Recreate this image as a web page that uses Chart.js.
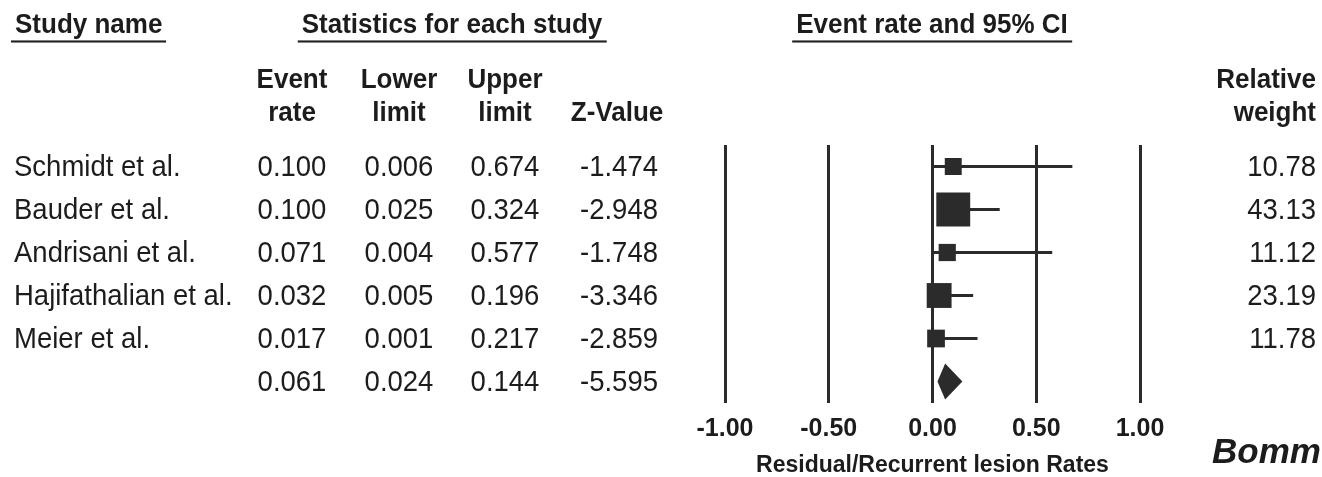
<!DOCTYPE html>
<html>
<head>
<meta charset="utf-8">
<script src="https://cdn.jsdelivr.net/npm/chart.js@4"></script>
<style>
  html, body { margin: 0; padding: 0; background: #fff; }
  #wrap { position: relative; width: 1322px; height: 477px; overflow: hidden; }
  #plot { position: absolute; left: 0; top: 0; }
  .t { position: absolute; white-space: nowrap; line-height: 1; color: #1c1c1c;
       font-family: "Liberation Sans", Arial, Helvetica, sans-serif; }
  .b { font-weight: bold; }
  .ul { border-bottom: 2px solid #222; padding: 0 4px 1px 4px; }
</style>
</head>
<body>
<div id="wrap">
  <canvas id="plot" width="1322" height="477"></canvas>
</div>
<script>
// study data
const studies = ["Schmidt et al.", "Bauder et al.", "Andrisani et al.", "Hajifathalian et al.", "Meier et al."];
const eventRate = [0.100, 0.100, 0.071, 0.032, 0.017];
const lowerLimit = [0.006, 0.025, 0.004, 0.005, 0.001];
const upperLimit = [0.674, 0.324, 0.577, 0.196, 0.217];
const zValue = [-1.474, -2.948, -1.748, -3.346, -2.859];
const relWeight = [10.78, 43.13, 11.12, 23.19, 11.78];
// pooled estimate: rate, lower, upper, z
const pooled = [0.061, 0.024, 0.144, -5.595];
const xTicks = [-1, -0.5, 0, 0.5, 1];

const ink = "#2b2b2b";
const wrap = document.getElementById("wrap");

// put a line of text with its baseline at y (slightly stretched vertically like the source)
function put(text, x, baseline, size, opts) {
  opts = opts || {};
  const el = document.createElement("div");
  el.className = "t" + (opts.bold ? " b" : "");
  el.style.fontSize = size + "px";
  if (opts.italic) el.style.fontStyle = "italic";
  const inner = document.createElement("span");
  inner.textContent = text;
  if (opts.underline) inner.className = "ul";
  el.appendChild(inner);
  const base = 0.846 * size;
  el.style.top = (baseline - base) + "px";
  el.style.left = x + "px";
  let tx = "";
  if (opts.align === "center") tx = "translateX(-50%) ";
  if (opts.align === "right") tx = "translateX(-100%) ";
  el.style.transformOrigin = "0 " + base + "px";
  el.style.transform = tx + "scaleY(" + (opts.sy || 1.06) + ")";
  wrap.appendChild(el);
}

// headers
put("Study name", 11, 33, 26, { bold: true, underline: true });
put("Statistics for each study", 452, 33, 26, { bold: true, underline: true, align: "center" });
put("Event rate and 95% CI", 932, 33, 26, { bold: true, underline: true, align: "center" });

const colX = [292, 399, 505];
put("Event", colX[0], 88, 26, { bold: true, align: "center" });
put("rate", colX[0], 121, 26, { bold: true, align: "center" });
put("Lower", colX[1], 88, 26, { bold: true, align: "center" });
put("limit", colX[1], 121, 26, { bold: true, align: "center" });
put("Upper", colX[2], 88, 26, { bold: true, align: "center" });
put("limit", colX[2], 121, 26, { bold: true, align: "center" });
put("Z-Value", 617, 121, 26, { bold: true, align: "center" });
put("Relative", 1316, 88, 26, { bold: true, align: "right" });
put("weight", 1316, 121, 26, { bold: true, align: "right" });

const rowBase = 176.5, rowStep = 43;
studies.forEach((name, i) => {
  const y = rowBase + i * rowStep;
  put(name, 14, y, 27.5);
  put(eventRate[i].toFixed(3), colX[0], y, 27.5, { align: "center" });
  put(lowerLimit[i].toFixed(3), colX[1], y, 27.5, { align: "center" });
  put(upperLimit[i].toFixed(3), colX[2], y, 27.5, { align: "center" });
  put(zValue[i].toFixed(3), 658, y, 27.5, { align: "right" });
  put(relWeight[i].toFixed(2), 1316, y, 27.5, { align: "right" });
});
const py = rowBase + studies.length * rowStep;
put(pooled[0].toFixed(3), colX[0], py, 27.5, { align: "center" });
put(pooled[1].toFixed(3), colX[1], py, 27.5, { align: "center" });
put(pooled[2].toFixed(3), colX[2], py, 27.5, { align: "center" });
put(pooled[3].toFixed(3), 658, py, 27.5, { align: "right" });

put("Bomm", 1212, 463, 35, { bold: true, italic: true, sy: 1 });

// datasets: one CI line per study, squares sized by weight
const ciSets = studies.map((name, i) => ({
  type: "line",
  label: name + " CI",
  data: [{ x: lowerLimit[i], y: i }, { x: upperLimit[i], y: i }],
  borderColor: ink,
  borderWidth: 3,
  pointRadius: 0,
  order: 2,
}));

const squares = {
  type: "scatter",
  label: "Event rate",
  data: studies.map((n, i) => ({ x: eventRate[i], y: i })),
  pointStyle: "rect",
  pointRadius: (c) => Math.sqrt(relWeight[c.dataIndex]) * 3.65,
  backgroundColor: ink,
  borderWidth: 0,
  order: 1,
};

// pooled diamond drawn through the scales
const diamondPlugin = {
  id: "diamond",
  afterDatasetsDraw(chart) {
    const { ctx, scales } = chart;
    const row = studies.length;
    const h = 0.42;
    ctx.save();
    ctx.fillStyle = ink;
    ctx.beginPath();
    ctx.moveTo(scales.x.getPixelForValue(pooled[1]), scales.y.getPixelForValue(row));
    ctx.lineTo(scales.x.getPixelForValue(pooled[0]), scales.y.getPixelForValue(row - h));
    ctx.lineTo(scales.x.getPixelForValue(pooled[2]), scales.y.getPixelForValue(row));
    ctx.lineTo(scales.x.getPixelForValue(pooled[0]), scales.y.getPixelForValue(row + h));
    ctx.closePath();
    ctx.fill();
    ctx.restore();
  },
};

new Chart(document.getElementById("plot"), {
  type: "scatter",
  data: { datasets: [squares, ...ciSets] },
  plugins: [diamondPlugin],
  options: {
    responsive: false,
    animation: false,
    layout: { padding: { left: 725, right: 182, top: 145, bottom: 0 } },
    plugins: { legend: { display: false }, tooltip: { enabled: false } },
    scales: {
      x: {
        type: "linear",
        min: -1,
        max: 1,
        afterBuildTicks: (s) => { s.ticks = xTicks.map((v) => ({ value: v })); },
        afterFit: (s) => { s.height = 74; },
        grid: { color: ink, lineWidth: 3, drawTicks: false },
        border: { display: false },
        ticks: {
          padding: 11,
          color: "#1c1c1c",
          font: { family: "Liberation Sans", size: 25, weight: "bold" },
          callback: (v) => v.toFixed(2),
        },
        title: {
          display: true,
          text: "Residual/Recurrent lesion Rates",
          color: "#1c1c1c",
          padding: { top: 0, bottom: 0 },
          font: { family: "Liberation Sans", size: 23, weight: "bold", lineHeight: 1 },
        },
      },
      y: {
        type: "linear",
        display: false,
        reverse: true,
        min: -0.5,
        max: studies.length + 0.5,
      },
    },
  },
});
</script>
</body>
</html>
